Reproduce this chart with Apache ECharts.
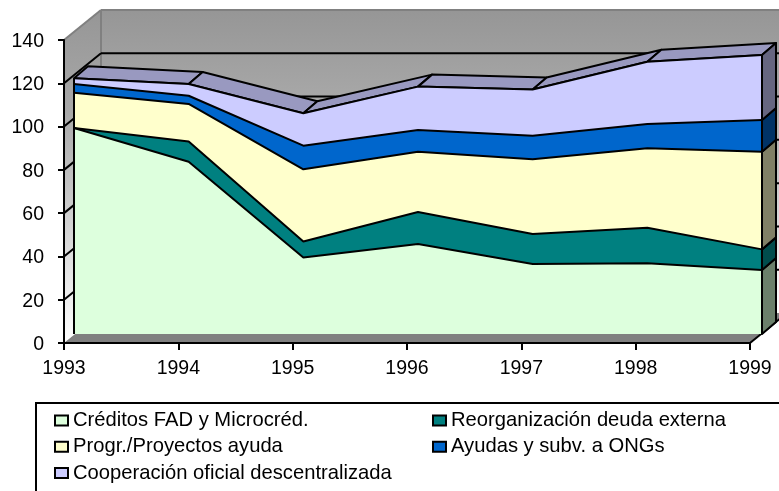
<!DOCTYPE html>
<html>
<head>
<meta charset="utf-8">
<style>html,body{margin:0;padding:0;background:#fff}#main{width:779px;height:491px}</style>
<script src="https://cdn.jsdelivr.net/npm/echarts@6/dist/echarts.min.js"></script>
</head>
<body>
<div id="main"></div>
<script>
var years = ['1993', '1994', '1995', '1996', '1997', '1998', '1999'];
var yTicks = [20, 40, 60, 80, 100, 120];
var creditos = [95.2, 79.6, 35.3, 41.6, 32.3, 32.7, 29.6];
var reorganizacion = [0, 9.3, 7.4, 14.8, 13.9, 16.4, 9.5];
var progr = [16.3, 17.4, 33.4, 27.8, 34.5, 36.7, 45.1];
var ayudas = [4, 3.8, 10.9, 10.1, 10.9, 11.2, 14.7];
var cooperacion = [2.7, 5.4, 15, 20, 21.4, 28.8, 30];

var names = ['Créditos FAD y Microcréd.', 'Reorganización deuda externa', 'Progr./Proyectos ayuda', 'Ayudas y subv. a ONGs', 'Cooperación oficial descentralizada'];
var layers = [creditos, reorganizacion, progr, ayudas, cooperacion];
var colors = ['#ddffdd', '#008080', '#ffffcc', '#0066cc', '#ccccff'];
var sideColors = ['#6b806b', '#004c4c', '#808066', '#003366', '#666680'];
var topColor = '#9999c0';
var font = '"Liberation Sans", Arial, sans-serif';

// running totals, one list per layer
var totals = [];
layers.forEach(function (vals, k) {
    totals.push(vals.map(function (v, i) { return v + (k ? totals[k - 1][i] : 0); }));
});

var WALL = [37, -30];   // depth of the box
var AREA = [14, -12];   // depth of the area block

function off(p, d) {
    return [p[0] + d[0], p[1] + d[1]];
}
function poly(points, fill, stroke, width) {
    return {
        type: 'polygon',
        shape: { points: points },
        style: { fill: fill, stroke: stroke || null, lineWidth: width || 0, lineJoin: 'round' }
    };
}
function line(a, b, color, width) {
    return {
        type: 'polyline',
        shape: { points: [a, b] },
        style: { fill: null, stroke: color, lineWidth: width }
    };
}

function renderWalls(params, api) {
    var last = years.length - 1;
    var o = api.coord([0, 0]), t = api.coord([0, 140]), r = api.coord([last, 0]);
    var wallFill = function () {
        return new echarts.graphic.LinearGradient(0, 0, 0, 1, [
            { offset: 0, color: '#969696' },
            { offset: 0.3, color: '#a8a8a8' },
            { offset: 1, color: '#ffffff' }
        ]);
    };
    var kids = [
        poly([o, t, off(t, WALL), off(o, WALL)], wallFill()),
        poly([off(o, WALL), off(t, WALL), off([r[0], t[1]], WALL), off(r, WALL)], wallFill()),
        poly([o, r, off(r, WALL), off(o, WALL)], '#808080'),
        line(t, off(t, WALL), '#808080', 2),
        line(off(t, WALL), off([r[0], t[1]], WALL), '#808080', 2),
        line(off(t, WALL), off(o, WALL), '#808080', 2),
        line(r, off(r, WALL), '#000', 2)
    ];
    yTicks.forEach(function (v) {
        var a = api.coord([0, v]);
        var b = off(a, WALL);
        kids.push(line(a, b, '#000', 2));
        kids.push(line(b, [off(r, WALL)[0], b[1]], '#000', 2));
    });
    return { type: 'group', children: kids };
}

function renderBlock(params, api) {
    var kids = [];
    var last = years.length - 1;
    var top = totals[totals.length - 1];
    // top faces, left to right
    for (var i = 0; i < last; i++) {
        var a = api.coord([i, top[i]]), b = api.coord([i + 1, top[i + 1]]);
        kids.push(poly([a, b, off(b, AREA), off(a, AREA)], topColor, '#000', 2));
    }
    // right side faces
    var base = api.coord([last, 0]);
    totals.forEach(function (tot, k) {
        var lo = k ? api.coord([last, totals[k - 1][last]]) : base;
        var hi = api.coord([last, tot[last]]);
        kids.push(poly([lo, hi, off(hi, AREA), off(lo, AREA)], sideColors[k], '#000', 2));
    });
    return { type: 'group', children: kids };
}

function renderEdges(params, api) {
    var last = years.length - 1;
    var top = totals[totals.length - 1];
    return {
        type: 'group',
        children: [
            line(api.coord([0, 0]), api.coord([0, top[0]]), '#000', 2),
            line(api.coord([last, 0]), api.coord([last, top[last]]), '#000', 2)
        ]
    };
}

var series = [
    { type: 'custom', xAxisIndex: 0, yAxisIndex: 0, z: 1, silent: true, data: [[0, 0]], renderItem: renderWalls },
    { type: 'custom', xAxisIndex: 1, yAxisIndex: 1, z: 2, silent: true, data: [[0, 0]], renderItem: renderBlock }
];
layers.forEach(function (vals, k) {
    series.push({
        name: names[k],
        type: 'line',
        stack: 'total',
        xAxisIndex: 1,
        yAxisIndex: 1,
        z: 3,
        symbol: 'none',
        silent: true,
        animation: false,
        data: vals,
        itemStyle: { color: colors[k] },
        lineStyle: { color: '#000', width: 2 },
        areaStyle: { color: colors[k], opacity: 1 }
    });
});
series.push({ type: 'custom', xAxisIndex: 1, yAxisIndex: 1, z: 4, silent: true, data: [[0, 0]], renderItem: renderEdges });

function legendAt(left, data) {
    return {
        left: left,
        top: 410.5,
        orient: 'vertical',
        padding: 0,
        icon: 'rect',
        itemWidth: 13,
        itemHeight: 10,
        itemGap: 6.3,
        selectedMode: false,
        data: data,
        itemStyle: { borderColor: '#000', borderWidth: 2 },
        lineStyle: { width: 0 },
        textStyle: { color: '#000', fontFamily: font, fontSize: 20.2 }
    };
}

var option = {
    backgroundColor: '#ffffff',
    animation: false,
    grid: [
        { left: 64, top: 40, width: 686, height: 303 },
        { left: 74, top: 31, width: 688, height: 303 }
    ],
    xAxis: [
        {
            type: 'category', gridIndex: 0, data: years, boundaryGap: false, z: 6,
            axisLine: { lineStyle: { color: '#000', width: 2 } },
            axisTick: { length: 7, lineStyle: { color: '#000', width: 2 } },
            axisLabel: { color: '#000', fontFamily: font, fontSize: 19.5, margin: 16, interval: 0, showMinLabel: true, showMaxLabel: true },
            splitLine: { show: false }
        },
        { type: 'category', gridIndex: 1, data: years, boundaryGap: false, show: false }
    ],
    yAxis: [
        {
            type: 'value', gridIndex: 0, min: 0, max: 140, interval: 20, z: 6,
            axisLine: { show: true, lineStyle: { color: '#000', width: 2 } },
            axisTick: { show: true, length: 6, lineStyle: { color: '#000', width: 2 } },
            axisLabel: { color: '#000', fontFamily: font, fontSize: 19.5, margin: 20, verticalAlign: 'top', lineHeight: 3 },
            splitLine: { show: false }
        },
        { type: 'value', gridIndex: 1, min: 0, max: 140, interval: 20, show: false, splitLine: { show: false } }
    ],
    legend: [
        legendAt(54, [names[0], names[2], names[4]]),
        legendAt(432, [names[1], names[3]])
    ],
    graphic: [{
        type: 'polyline',
        silent: true,
        shape: { points: [[36, 491], [36, 403], [779, 403]] },
        style: { fill: null, stroke: '#000', lineWidth: 2 }
    }],
    series: series
};

var chart = echarts.init(document.getElementById('main'), null, { renderer: 'canvas' });
chart.setOption(option);
</script>
</body>
</html>
